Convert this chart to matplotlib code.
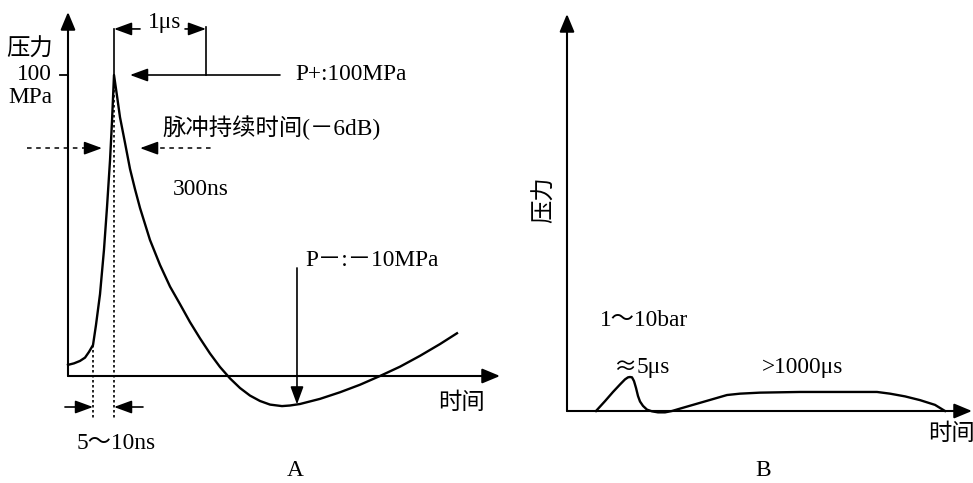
import numpy as np
import matplotlib
matplotlib.use("Agg")
import matplotlib.pyplot as plt

plt.rcParams["font.family"] = ["Liberation Serif", "Noto Sans CJK SC"]
plt.rcParams["font.size"] = 16.8

# ---- Panel A: shock-wave pulse (time in μs, pressure in MPa) ----
a_time = np.array([0.000, 0.065, 0.130, 0.185, 0.228, 0.272, 0.304, 0.348, 0.391, 0.424,
                   0.457, 0.478, 0.500,
                   0.533, 0.565, 0.620, 0.674, 0.728, 0.783, 0.891, 1.000, 1.109, 1.217,
                   1.326, 1.435, 1.543, 1.652, 1.761, 1.870, 1.978, 2.087, 2.196, 2.326,
                   2.413, 2.522, 2.739, 2.957, 3.174, 3.391, 3.609, 3.826, 4.043, 4.228])
a_pressure = np.array([3.7, 4.2, 5.0, 6.1, 8.0, 10.3, 16.9, 27.2, 41.9, 56.1,
                       71.8, 84.4, 100.0,
                       93.0, 86.0, 77.4, 68.8, 62.1, 55.8, 45.2, 36.9, 29.7, 23.9,
                       17.9, 12.5, 7.5, 3.0, -0.8, -4.0, -6.5, -8.3, -9.5, -10.0,
                       -9.8, -9.3, -7.6, -5.4, -2.9, 0.0, 3.1, 6.7, 10.6, 14.2])
a_peak_time = 0.5        # μs
a_peak_pressure = 100    # P+ in MPa
a_rise_start = 0.272     # start of the steep rise, μs
a_trough_mark = 2.489    # where the P- arrow points, μs
a_yticks = [100]
a_ytick_labels = ["100"]

# ---- Panel B: pressure wave (arbitrary units) ----
b_time = [7.25, 9.5, 11.5, 13.25, 14.5, 15.25, 15.75, 16.25, 16.75, 17.25,
          17.75, 18.25, 19.0, 20.0, 21.25, 22.75, 24.5, 26.25, 28.25, 33.25,
          40.0, 43.25, 48.25, 58.25, 77.5, 80.75, 84.5, 88.25, 92.0, 94.5]
b_pressure = [0.0, 2.9, 5.6, 7.8, 9.3, 9.9, 10.0, 9.9, 8.8, 6.8,
              4.4, 2.8, 1.5, 0.4, -0.1, -0.4, -0.4, 0.0, 0.7, 2.4,
              4.7, 5.1, 5.4, 5.6, 5.6, 5.1, 4.3, 3.2, 1.8, 0.0]

W, H = 973, 483
fig = plt.figure(figsize=(W / 100, H / 100), dpi=100)


def px_box(x0, y_top, x1, y_bottom):
    return [x0 / W, 1 - y_bottom / H, (x1 - x0) / W, (y_bottom - y_top) / H]


ARROW = dict(arrowstyle="-|>,head_length=0.6,head_width=0.22", mutation_scale=18,
             lw=1.2, color="black", shrinkA=0, shrinkB=0)
AXIS_ARROW = dict(arrowstyle="-|>,head_length=0.6,head_width=0.25", mutation_scale=18,
                  lw=1.5, color="black", shrinkA=0, shrinkB=0)


def arrow(ax, tail, tip, props=ARROW):
    ax.annotate("", xy=tip, xytext=tail, xycoords="data", textcoords="data",
                arrowprops=props, annotation_clip=False)


def line(ax, xs, ys, **kw):
    kw.setdefault("color", "black")
    kw.setdefault("lw", 1.2)
    ax.plot(xs, ys, clip_on=False, **kw)


# ================= Panel A =================
axA = fig.add_axes(px_box(68, 12, 500, 376))
axA.set_xlim(0, 432 / 92)
axA.set_ylim(0, 364 / 3.01)
axA.axis("off")
xmax, ymax = axA.get_xlim()[1], axA.get_ylim()[1]

arrow(axA, (0, 0), (0, ymax), AXIS_ARROW)
arrow(axA, (0, 0), (xmax, 0), AXIS_ARROW)

axA.plot(a_time, a_pressure, color="black", lw=1.7, clip_on=False,
         solid_joinstyle="round")

# y tick
for v, lab in zip(a_yticks, a_ytick_labels):
    line(axA, [-0.087, 0], [v, v], lw=1.3)
    axA.text(-0.174, v, lab, ha="right", va="center")
axA.text(-0.174, 92.4, "MPa", ha="right", va="center")
axA.text(-0.163, 108.5, "压力", ha="right", va="center")

# 1 μs dimension
line(axA, [a_peak_time, a_peak_time], [a_peak_pressure, 115.3])
line(axA, [a_peak_time + 1.0, a_peak_time + 1.0], [a_peak_pressure, 116.0])
arrow(axA, (0.783, 115.3), (a_peak_time, 115.3))
arrow(axA, (1.272, 115.3), (a_peak_time + 1.0, 115.3))
axA.text(1.054, 117.6, "1μs", ha="center", va="center")

# P+ marker
arrow(axA, (2.304, a_peak_pressure), (0.674, a_peak_pressure))
axA.text(2.467, a_peak_pressure, "P+:100MPa", ha="left", va="center")

# pulse duration (-6 dB)
pd_level = 75.7
line(axA, [-0.446, 0.25], [pd_level, pd_level], lw=1.1, ls=(0, (3, 3)))
arrow(axA, (0.22, pd_level), (0.370, pd_level))
line(axA, [0.90, 1.576], [pd_level, pd_level], lw=1.1, ls=(0, (3, 3)))
arrow(axA, (0.93, pd_level), (0.783, pd_level))
axA.text(1.022, 82.4, "脉冲持续时间(－6dB)", ha="left", va="center")
axA.text(1.141, 61.8, "300ns", ha="left", va="center")

# rise time
line(axA, [a_rise_start, a_rise_start], [np.interp(a_rise_start, a_time, a_pressure), -14.6],
     lw=1.2, ls=(0, (1.5, 1.5)))
line(axA, [a_peak_time, a_peak_time], [95, -14.6], lw=1.2, ls=(0, (1.5, 1.5)))
arrow(axA, (-0.033, -10.3), (a_rise_start, -10.3))
arrow(axA, (0.815, -10.3), (a_peak_time, -10.3))
axA.text(0.527, -22.3, "5～10ns", ha="center", va="center")

# P- marker
arrow(axA, (a_trough_mark, 35.9), (a_trough_mark, np.interp(a_trough_mark, a_time, a_pressure)))
axA.text(2.576, 38.5, "P－:－10MPa", ha="left", va="center")

axA.text(4.022, -9.0, "时间", ha="left", va="center")
axA.text(2.467, -31.3, "A", ha="center", va="center")

# ================= Panel B =================
axB = fig.add_axes(px_box(567, 14, 972, 411))
axB.set_xlim(0, 405 / 4)
axB.set_ylim(0, 397 / 3.4)
axB.axis("off")
bx, by = axB.get_xlim()[1], axB.get_ylim()[1]

arrow(axB, (0, 0), (0, by), AXIS_ARROW)
arrow(axB, (0, 0), (bx, 0), AXIS_ARROW)
axB.plot(b_time, b_pressure, color="black", lw=1.7, clip_on=False,
         solid_joinstyle="round")

axB.text(-5.5, 62.1, "压力", ha="center", va="center", rotation=90)
axB.text(8.25, 26.5, "1～10bar", ha="left", va="center")
axB.text(11.5, 12.9, "≈", ha="left", va="center", family=["Noto Sans CJK SC"])
axB.text(17.5, 12.9, "5μs", ha="left", va="center")
axB.text(48.75, 12.9, ">1000μs", ha="left", va="center")
axB.text(90.25, -6.8, "时间", ha="left", va="center")
axB.text(49, -17.4, "B", ha="center", va="center")

fig.savefig("out.png", dpi=100)
